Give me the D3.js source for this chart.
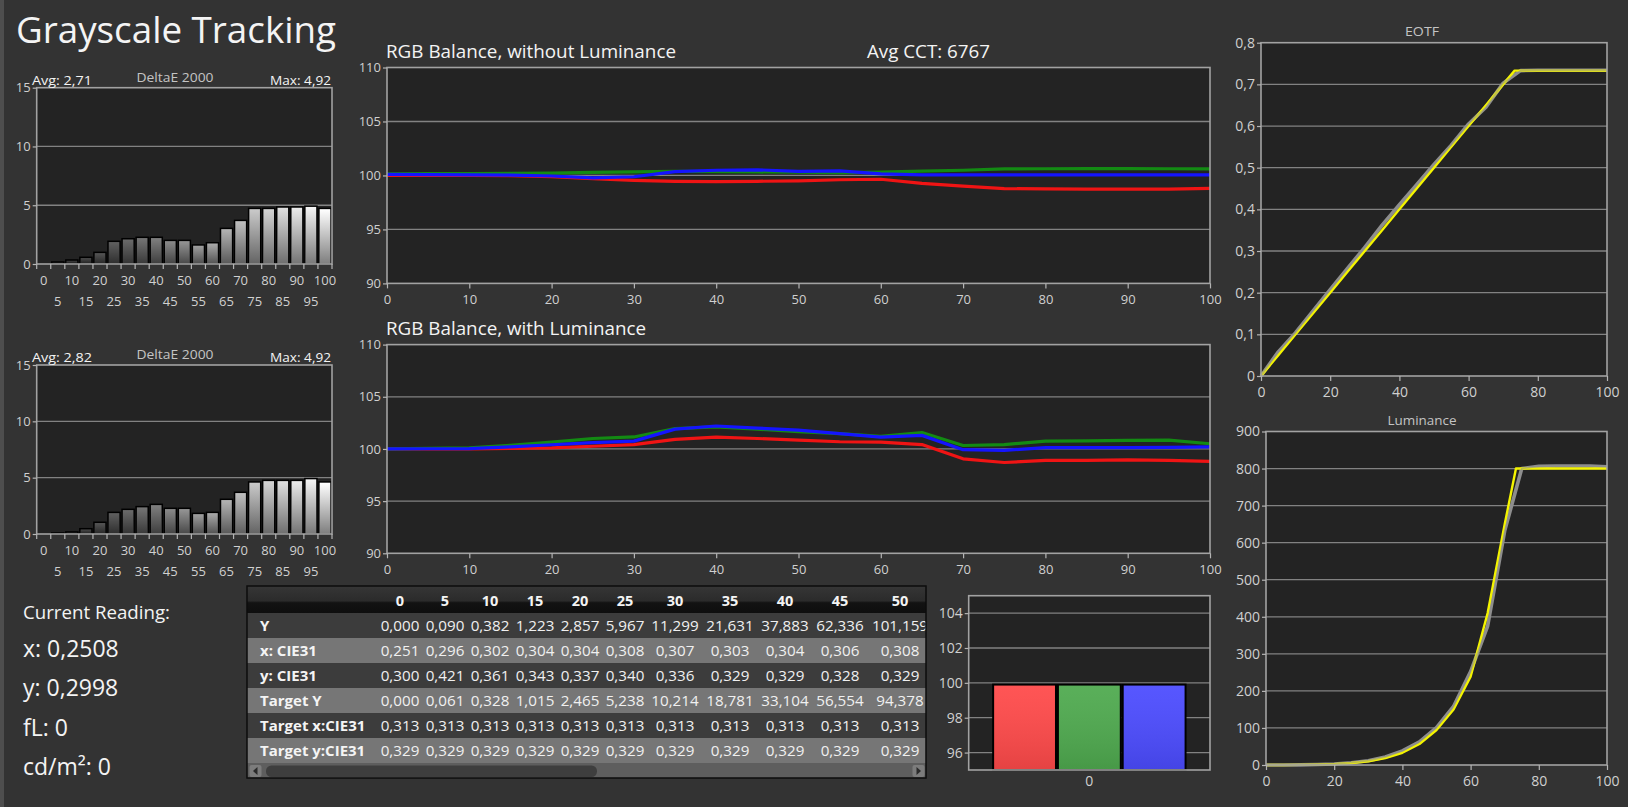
<!DOCTYPE html>
<html>
<head>
<meta charset="utf-8">
<title>Grayscale Tracking</title>
<script src="https://cdn.jsdelivr.net/npm/d3@7"></script>
<style>
  html, body { margin: 0; padding: 0; background: #333; overflow: hidden; }
  svg { display: block; }
  text { font-family: "Open Sans", "Noto Sans", sans-serif; }
</style>
</head>
<body>
<svg id="drawing_region" width="1628" height="807"></svg>
<script>
// ---- values ----
const levels = [0, 5, 10, 15, 20, 25, 30, 35, 40, 45, 50, 55, 60, 65, 70, 75, 80, 85, 90, 95, 100];

// DeltaE 2000 per stimulus level
const deltaE1 = [0, 0.17, 0.34, 0.57, 0.99, 1.93, 2.15, 2.27, 2.27, 2.01, 2.01, 1.62, 1.81, 3.03, 3.71, 4.73, 4.73, 4.85, 4.85, 4.92, 4.73];
const deltaE2 = [0, 0.09, 0.18, 0.47, 1.04, 1.92, 2.19, 2.43, 2.63, 2.28, 2.28, 1.83, 1.92, 3.08, 3.70, 4.62, 4.76, 4.76, 4.76, 4.92, 4.62];

// RGB balance, without luminance
const redNoLum   = [100.0, 100.0, 100.0, 99.97, 99.9, 99.7, 99.55, 99.45, 99.42, 99.46, 99.5, 99.6, 99.65, 99.27, 99.02, 98.78, 98.75, 98.74, 98.74, 98.74, 98.8];
const greenNoLum = [100.15, 100.17, 100.18, 100.2, 100.22, 100.28, 100.33, 100.37, 100.35, 100.32, 100.3, 100.27, 100.3, 100.4, 100.48, 100.6, 100.62, 100.63, 100.63, 100.62, 100.6];
const blueNoLum  = [100.1, 100.08, 100.05, 100.03, 99.95, 99.78, 99.88, 100.35, 100.48, 100.52, 100.37, 100.43, 100.15, 100.06, 100.05, 100.05, 100.05, 100.05, 100.05, 100.05, 100.05];

// RGB balance, with luminance
const redLum   = [100.0, 100.0, 100.0, 100.05, 100.1, 100.26, 100.42, 100.92, 101.14, 101.0, 100.85, 100.69, 100.65, 100.42, 99.05, 98.7, 98.9, 98.9, 98.95, 98.9, 98.8];
const greenLum = [100.0, 100.05, 100.1, 100.35, 100.65, 101.0, 101.15, 101.95, 102.12, 101.9, 101.65, 101.47, 101.2, 101.57, 100.33, 100.42, 100.75, 100.78, 100.82, 100.85, 100.5];
const blueLum  = [100.0, 100.02, 100.03, 100.2, 100.4, 100.6, 100.75, 101.9, 102.2, 102.0, 101.8, 101.47, 101.14, 101.3, 99.93, 99.87, 100.13, 100.13, 100.13, 100.16, 100.2];

// EOTF / luminance: target (yellow) clips at 73.3 %, measured (gray) per level
const targetLevels = [0, 5, 10, 15, 20, 25, 30, 35, 40, 45, 50, 55, 60, 65, 70, 73.3, 75, 80, 85, 90, 95, 100];
const eotfTarget   = [0, 0.05, 0.1, 0.15, 0.2, 0.25, 0.3, 0.35, 0.4, 0.45, 0.5, 0.55, 0.6, 0.65, 0.7, 0.733, 0.733, 0.733, 0.733, 0.733, 0.733, 0.733];
const eotfMeasured = [0, 0.058, 0.104, 0.156, 0.207, 0.258, 0.309, 0.362, 0.411, 0.459, 0.508, 0.554, 0.605, 0.645, 0.703, 0.733, 0.734, 0.734, 0.734, 0.734, 0.734];
const lumTarget    = [0, 0.061, 0.328, 1.015, 2.465, 5.238, 10.214, 18.781, 33.104, 56.554, 94.378, 150, 238, 410, 650, 800, 800, 800, 800, 800, 800, 800];
const lumMeasured  = [0, 0.09, 0.382, 1.223, 2.857, 5.967, 11.299, 21.631, 37.883, 62.336, 101.159, 158, 252, 375, 632, 800, 806, 807, 807, 807, 805];

// current RGB reading
const rgbNames  = ['R', 'G', 'B'];
const rgbNow    = [99.9, 99.9, 99.9];

// measurement table
const tableLevels = [0, 5, 10, 15, 20, 25, 30, 35, 40, 45, 50];
const rowLabels   = ['Y', 'x: CIE31', 'y: CIE31', 'Target Y', 'Target x:CIE31', 'Target y:CIE31'];
const measY   = [0.000, 0.090, 0.382, 1.223, 2.857, 5.967, 11.299, 21.631, 37.883, 62.336, 101.159];
const measX   = [0.251, 0.296, 0.302, 0.304, 0.304, 0.308, 0.307, 0.303, 0.304, 0.306, 0.308];
const measYc  = [0.300, 0.421, 0.361, 0.343, 0.337, 0.340, 0.336, 0.329, 0.329, 0.328, 0.329];
const targY   = [0.000, 0.061, 0.328, 1.015, 2.465, 5.238, 10.214, 18.781, 33.104, 56.554, 94.378];
const targX   = [0.313, 0.313, 0.313, 0.313, 0.313, 0.313, 0.313, 0.313, 0.313, 0.313, 0.313];
const targYc  = [0.329, 0.329, 0.329, 0.329, 0.329, 0.329, 0.329, 0.329, 0.329, 0.329, 0.329];

const readingLines = ['x: 0,2508', 'y: 0,2998', 'fL: 0', 'cd/m²: 0'];

// ---- drawing ----
const svg = d3.select('#drawing_region');
const C = { page: '#333333', plot: '#232323', grid: '#828282', frame: '#a2a2a2', tick: '#b4b4b4', label: '#d0d0d0', text: '#f4f4f4' };
const loc = d3.formatLocale({ decimal: ',', thousands: '.', grouping: [3], currency: ['', ''] });
const f3 = loc.format('.3f');
const fEotf = loc.format('.1~f');

svg.append('rect').attr('width', 1628).attr('height', 807).attr('fill', C.page);
svg.append('rect').attr('width', 4).attr('height', 807).attr('fill', '#4e4e4e');

const defs = svg.append('defs');
const shade = defs.append('linearGradient').attr('id', 'shade').attr('x1', 0).attr('y1', 0).attr('x2', 0).attr('y2', 1);
shade.append('stop').attr('offset', 0).attr('stop-color', '#000').attr('stop-opacity', 0);
shade.append('stop').attr('offset', 1).attr('stop-color', '#000').attr('stop-opacity', 0.5);
const soft = defs.append('linearGradient').attr('id', 'soft').attr('x1', 0).attr('y1', 0).attr('x2', 0).attr('y2', 1);
soft.append('stop').attr('offset', 0).attr('stop-color', '#fff').attr('stop-opacity', 0.06);
soft.append('stop').attr('offset', 1).attr('stop-color', '#000').attr('stop-opacity', 0.1);
const hdr = defs.append('linearGradient').attr('id', 'hdr').attr('x1', 0).attr('y1', 0).attr('x2', 0).attr('y2', 1);
[[0, '#363636'], [0.55, '#2b2b2b'], [0.62, '#121212'], [1, '#0e0e0e']].forEach(s =>
  hdr.append('stop').attr('offset', s[0]).attr('stop-color', s[1]));

function label(x, y, s, o = {}) {
  const t = svg.append('text').attr('x', x).attr('y', y).text(s)
    .attr('fill', o.fill || C.text)
    .attr('font-size', o.size || 13)
    .attr('font-weight', o.weight || 400)
    .attr('text-anchor', o.anchor || 'start');
  if (o.width) t.attr('textLength', o.width).attr('lengthAdjust', 'spacingAndGlyphs');
  return t;
}

function styleAxis(g, fs) {
  g.attr('font-family', null).attr('font-size', fs);
  g.select('.domain').remove();
  g.selectAll('.tick line').attr('stroke', C.tick).attr('stroke-width', 1.2);
  g.selectAll('.tick text').attr('fill', C.label);
}

// plot box with background, gridlines, frame and axes
function panel(o) {
  const g = svg.append('g');
  const x = o.xScale || d3.scaleLinear().domain(o.xDomain).range([o.left, o.right]);
  const y = d3.scaleLinear().domain(o.yDomain).range([o.bottom, o.top]);
  const fs = o.fs || 13;

  g.append('rect').attr('x', o.left).attr('y', o.top)
    .attr('width', o.right - o.left).attr('height', o.bottom - o.top)
    .attr('fill', C.plot);

  g.append('g').selectAll('line')
    .data(o.yTicks.filter(d => d > o.yDomain[0] && d < o.yDomain[1]))
    .join('line')
    .attr('x1', o.left).attr('x2', o.right)
    .attr('y1', d => y(d)).attr('y2', d => y(d))
    .attr('stroke', C.grid).attr('stroke-width', 1.3);

  const plot = g.append('g');

  g.append('rect').attr('x', o.left).attr('y', o.top)
    .attr('width', o.right - o.left).attr('height', o.bottom - o.top)
    .attr('fill', 'none').attr('stroke', C.frame).attr('stroke-width', 1.6);

  g.append('g').attr('transform', `translate(${o.left},0)`)
    .call(d3.axisLeft(y).tickValues(o.yTicks).tickSize(4).tickPadding(2).tickFormat(o.yFmt || (d => d)))
    .call(styleAxis, fs);

  if (o.xTicks) {
    g.append('g').attr('transform', `translate(0,${o.bottom})`)
      .call(d3.axisBottom(x).tickValues(o.xTicks).tickSize(5).tickPadding(6))
      .call(styleAxis, fs);
  }
  return { g, plot, x, y };
}

// ---- title ----
label(16, 43, 'Grayscale Tracking', { size: 36, width: 320 });

// ---- DeltaE bar charts ----
const greyOf = d3.scaleLinear().domain([0, 100]).range(['#2a2a2a', '#ffffff']);

function deltaPanel(top, bottom, values, avg, max) {
  const left = 36.7, right = 332;
  const x = d3.scaleBand().domain(levels).range([left, right]).paddingInner(0.14).paddingOuter(0.07);
  const p = panel({ left, right, top, bottom, xScale: x, yDomain: [0, 15], yTicks: [0, 5, 10, 15] });
  const step = x.step();

  p.plot.selectAll('rect.bar')
    .data(values)
    .join('rect')
    .attr('class', 'bar')
    .attr('x', (d, i) => x(levels[i]))
    .attr('y', d => p.y(d))
    .attr('width', x.bandwidth())
    .attr('height', d => bottom - p.y(d))
    .attr('fill', (d, i) => greyOf(levels[i]))
    .attr('stroke', '#000').attr('stroke-width', 1.5);
  p.plot.selectAll('rect.shade')
    .data(values)
    .join('rect')
    .attr('class', 'shade')
    .attr('x', (d, i) => x(levels[i]) + 0.75)
    .attr('y', d => p.y(d) + 0.75)
    .attr('width', x.bandwidth() - 1.5)
    .attr('height', d => Math.max(0, bottom - p.y(d) - 1.5))
    .attr('fill', 'url(#shade)');

  // ticks sit on the band borders, labels in two staggered rows
  p.g.append('g').selectAll('line')
    .data(d3.range(levels.length + 1))
    .join('line')
    .attr('x1', i => left + i * step).attr('x2', i => left + i * step)
    .attr('y1', bottom).attr('y2', bottom + 5)
    .attr('stroke', C.tick).attr('stroke-width', 1.2);
  p.g.append('g').selectAll('text')
    .data(levels)
    .join('text')
    .attr('x', d => x(d) + x.bandwidth() / 2)
    .attr('y', (d, i) => bottom + (i % 2 ? 42 : 21))
    .attr('text-anchor', 'middle')
    .attr('font-size', 13)
    .attr('fill', C.label)
    .text(d => d);

  label(32, top - 3, 'Avg: ' + avg, { size: 13.5, width: 60 });
  label(175, top - 6, 'DeltaE 2000', { size: 13, fill: '#c4c4c4', anchor: 'middle', width: 77 });
  label(331, top - 3, 'Max: ' + max, { size: 13.5, anchor: 'end', width: 61 });
}
deltaPanel(87.7, 264, deltaE1, '2,71', '4,92');
deltaPanel(365, 534, deltaE2, '2,82', '4,92');

// ---- RGB balance line charts ----
const rgbColors = ['#f01414', '#138a13', '#1414ff'];
function rgbPanel(top, bottom, series, title, titleW) {
  const p = panel({
    left: 387, right: 1210, top, bottom,
    xDomain: [0, 100], yDomain: [90, 110],
    yTicks: [90, 95, 100, 105, 110], xTicks: [0, 10, 20, 30, 40, 50, 60, 70, 80, 90, 100]
  });
  const line = d3.line().x((d, i) => p.x(levels[i])).y(d => p.y(d));
  p.plot.selectAll('path')
    .data(series)
    .join('path')
    .attr('d', line)
    .attr('fill', 'none')
    .attr('stroke', (d, i) => rgbColors[i])
    .attr('stroke-width', 3.2)
    .attr('stroke-linejoin', 'round');
  label(386, top - 9.2, title, { size: 17.5, width: titleW });
}
rgbPanel(67.5, 283.4, [redNoLum, greenNoLum, blueNoLum], 'RGB Balance, without Luminance', 290);
label(867, 58.3, 'Avg CCT: 6767', { size: 17.5, width: 123 });
rgbPanel(344.6, 553.3, [redLum, greenLum, blueLum], 'RGB Balance, with Luminance', 260);

// ---- EOTF and luminance ----
function curvePanel(o, target, measured, title) {
  const p = panel(Object.assign({ xDomain: [0, 100], xTicks: [0, 20, 40, 60, 80, 100], fs: 14 }, o));
  const lt = d3.line().x((d, i) => p.x(targetLevels[i])).y(d => p.y(d));
  const lm = d3.line().x((d, i) => p.x(levels[i])).y(d => p.y(d));
  p.plot.append('path').attr('d', lm(measured))
    .attr('fill', 'none').attr('stroke', '#8e8e8e')
    .attr('stroke-width', 3.6).attr('stroke-linejoin', 'round');
  p.plot.append('path').attr('d', lt(target))
    .attr('fill', 'none').attr('stroke', '#f4f400').attr('stroke-width', 2.4).attr('stroke-linejoin', 'round');
  p.plot.append('path').attr('d', lm(measured))
    .attr('fill', 'none').attr('stroke', '#8e8e8e').attr('stroke-opacity', 0.55)
    .attr('stroke-width', 1.6).attr('stroke-linejoin', 'round');
  label(1422, o.top - 6.5, title.text, { size: 13, fill: '#c4c4c4', anchor: 'middle', width: title.w });
}
curvePanel({ left: 1261, right: 1607, top: 42.7, bottom: 376, yDomain: [0, 0.8],
  yTicks: [0, 0.1, 0.2, 0.3, 0.4, 0.5, 0.6, 0.7, 0.8], yFmt: fEotf },
  eotfTarget, eotfMeasured, { text: 'EOTF', w: 34 });
curvePanel({ left: 1266, right: 1607, top: 431.5, bottom: 765, yDomain: [0, 900],
  yTicks: [0, 100, 200, 300, 400, 500, 600, 700, 800, 900] },
  lumTarget, lumMeasured, { text: 'Luminance', w: 69 });

// ---- current RGB bars ----
{
  const left = 968.7, right = 1210, top = 595.7, bottom = 770;
  const xg = d3.scaleBand().domain(['0']).range([left, right]).paddingOuter(0.127);
  const p = panel({ left, right, top, bottom, xScale: xg, yDomain: [95, 105], yTicks: [96, 98, 100, 102, 104], fs: 14 });
  const xi = d3.scaleBand().domain(rgbNames).range([0, xg.bandwidth()]).paddingInner(0.03);
  const fills = ['#ff4a4a', '#4faa4f', '#4c4cff'];
  p.plot.selectAll('rect.bar')
    .data(rgbNow)
    .join('rect')
    .attr('class', 'bar')
    .attr('x', (d, i) => xg('0') + xi(rgbNames[i]))
    .attr('y', d => p.y(d))
    .attr('width', xi.bandwidth())
    .attr('height', d => bottom - p.y(d))
    .attr('fill', (d, i) => fills[i])
    .attr('stroke', '#000').attr('stroke-width', 2);
  p.plot.selectAll('rect.soft')
    .data(rgbNow)
    .join('rect')
    .attr('class', 'soft')
    .attr('x', (d, i) => xg('0') + xi(rgbNames[i]) + 1)
    .attr('y', d => p.y(d) + 1)
    .attr('width', xi.bandwidth() - 2)
    .attr('height', d => bottom - p.y(d) - 2)
    .attr('fill', 'url(#soft)');
  p.g.append('g').attr('transform', `translate(0,${bottom})`)
    .call(d3.axisBottom(xg).tickSize(0).tickPadding(6))
    .call(styleAxis, 14);
}

// ---- current reading ----
label(23, 619, 'Current Reading:', { size: 18.5, width: 147 });
svg.append('g').selectAll('text')
  .data(readingLines)
  .join('text')
  .attr('x', 23)
  .attr('y', (d, i) => 657 + i * 39.3)
  .attr('font-size', 23)
  .attr('fill', C.text)
  .text(d => d);

// ---- measurement table ----
{
  const tLeft = 247, tRight = 926, tTop = 586, hdrH = 27, rowH = 25;
  const rows = rowLabels.map((name, i) => ({ name, values: [measY, measX, measYc, targY, targX, targYc][i] }));
  const g = svg.append('g');
  defs.append('clipPath').attr('id', 'tclip').append('rect')
    .attr('x', tLeft).attr('y', tTop).attr('width', tRight - tLeft).attr('height', 200);
  const body = g.append('g').attr('clip-path', 'url(#tclip)');

  // column widths follow the longest value in each column
  const widths = tableLevels.map((d, j) => {
    const len = d3.max(rows, r => f3(r.values[j]).length);
    return 45 + (len - 5) * 10;
  });
  const starts = [];
  widths.reduce((acc, w, j) => (starts[j] = acc, acc + w), 377.5);
  const cx = j => starts[j] + widths[j] / 2;

  body.append('rect').attr('x', tLeft).attr('y', tTop).attr('width', tRight - tLeft).attr('height', hdrH)
    .attr('fill', 'url(#hdr)');
  body.append('g').selectAll('text')
    .data(tableLevels)
    .join('text')
    .attr('x', (d, j) => cx(j)).attr('y', tTop + 19.5)
    .attr('text-anchor', 'middle').attr('font-size', 14.5).attr('font-weight', 700)
    .attr('fill', '#f4f4f4')
    .text(d => d);

  const rowG = body.selectAll('g.row')
    .data(rows)
    .join('g')
    .attr('class', 'row')
    .attr('transform', (d, i) => `translate(0,${tTop + hdrH + i * rowH})`);
  rowG.append('rect').attr('x', tLeft).attr('width', tRight - tLeft).attr('height', rowH)
    .attr('fill', (d, i) => i % 2 ? '#767676' : '#3c3c3c');
  rowG.append('text').attr('x', 260).attr('y', 17.8)
    .attr('font-size', 15).attr('font-weight', 700).attr('fill', '#f4f4f4')
    .text(d => d.name);
  rowG.selectAll('text.val')
    .data(d => d.values)
    .join('text')
    .attr('class', 'val')
    .attr('x', (d, j) => cx(j)).attr('y', 17.8)
    .attr('text-anchor', 'middle').attr('font-size', 15.2).attr('fill', '#f0f0f0')
    .text(d => f3(d));

  // horizontal scrollbar
  const sTop = tTop + hdrH + rows.length * rowH;
  g.append('rect').attr('x', tLeft).attr('y', sTop).attr('width', tRight - tLeft).attr('height', 778 - sTop)
    .attr('fill', '#5e5e5e');
  g.append('rect').attr('x', 266).attr('y', sTop + 2.5).attr('width', 331).attr('height', 11.5).attr('rx', 5.5)
    .attr('fill', '#3e3e3e');
  [[249.5, 1], [912.5, -1]].forEach(([bx, dir]) => {
    g.append('rect').attr('x', bx).attr('y', sTop + 2).attr('width', 12).attr('height', 12).attr('rx', 2)
      .attr('fill', '#7c7c7c');
    const mx = bx + 6, my = sTop + 8;
    g.append('path').attr('d', `M${mx - 2.5 * dir},${my} L${mx + 2 * dir},${my - 4} L${mx + 2 * dir},${my + 4} Z`)
      .attr('fill', '#2a2a2a');
  });
  g.append('rect').attr('x', tLeft).attr('y', tTop).attr('width', tRight - tLeft).attr('height', 778 - tTop)
    .attr('fill', 'none').attr('stroke', '#0d0d0d').attr('stroke-width', 1.5);
}
</script>
</body>
</html>
